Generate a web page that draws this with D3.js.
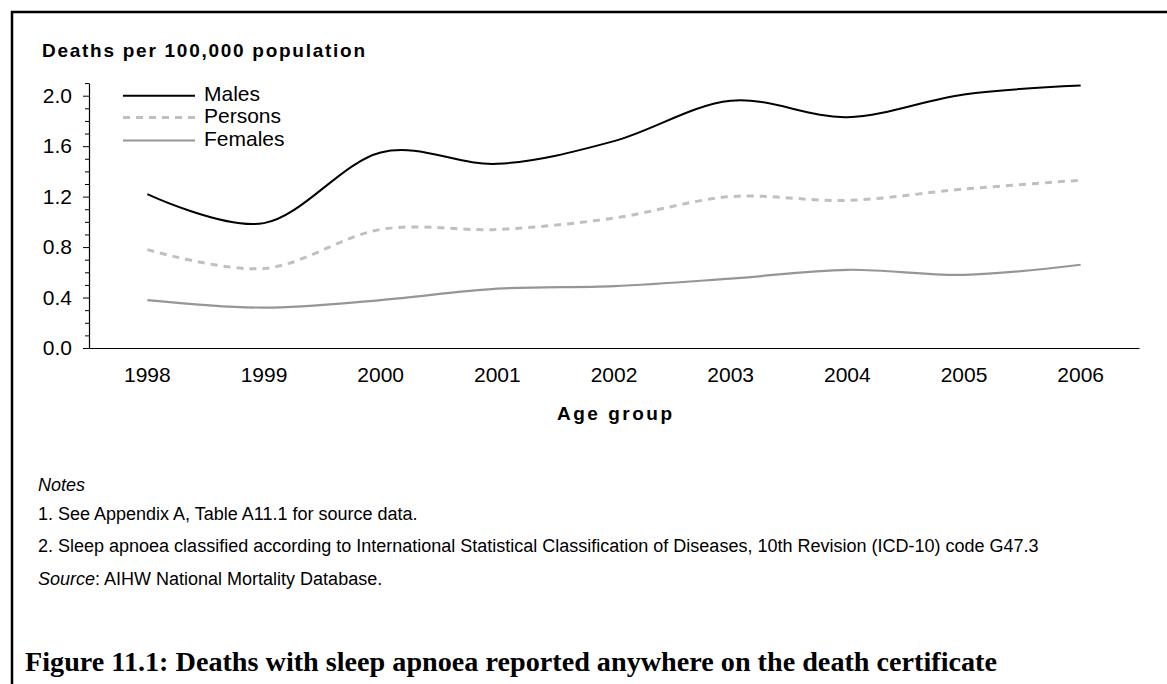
<!DOCTYPE html>
<html><head><meta charset="utf-8">
<script src="https://cdn.jsdelivr.net/npm/d3@7"></script>
<style>
html,body{margin:0;padding:0;background:#fff;}
svg{display:block;}
text{font-family:Arial,"Liberation Sans",sans-serif;fill:#000;}
</style></head>
<body>
<svg id="chart" width="1167" height="684"></svg>
<script>
const years = ["1998","1999","2000","2001","2002","2003","2004","2005","2006"];
const males = [1.22, 0.99, 1.55, 1.46, 1.64, 1.96, 1.83, 2.01, 2.08];
const persons = [0.78, 0.63, 0.94, 0.94, 1.03, 1.20, 1.17, 1.26, 1.33];
const females = [0.38, 0.32, 0.38, 0.47, 0.49, 0.55, 0.62, 0.58, 0.66];
const seriesNames = ["Males","Persons","Females"];
const majorTicks = [0.0, 0.4, 0.8, 1.2, 1.6, 2.0];
const minorTicks = [0.1,0.2,0.3,0.5,0.6,0.7,0.9,1.0,1.1,1.3,1.4,1.5,1.7,1.8,1.9,2.1];
const yTitle = "Deaths per 100,000 population";
const xTitle = "Age group";
const notes = ["1. See Appendix A, Table A11.1 for source data.",
  "2. Sleep apnoea classified according to International Statistical Classification of Diseases, 10th Revision (ICD-10) code G47.3"];
const caption = "Figure 11.1: Deaths with sleep apnoea reported anywhere on the death certificate";

const svg = d3.select("#chart");
// frame
svg.append("rect").attr("x",12).attr("y",12).attr("width",1180).attr("height",700)
  .attr("fill","none").attr("stroke","#000").attr("stroke-width",2.5);

const L = 89, R = 1139, B = 348;
const x = d3.scaleBand().domain(years).range([L, R]);
const xc = d => x(d) + x.bandwidth()/2;
const y = d3.scaleLinear().domain([0, 2.1]).range([B, B - 2.1*126.15]);

// y axis minor ticks
svg.append("g").attr("transform",`translate(${L},0)`)
  .call(d3.axisLeft(y).tickValues(minorTicks).tickSize(4).tickFormat("").tickSizeOuter(0))
  .call(g=>g.select(".domain").remove())
  .call(g=>g.selectAll("line").attr("stroke","#000"));
// y axis major
svg.append("g").attr("transform",`translate(${L},0)`)
  .call(d3.axisLeft(y).tickValues(majorTicks).tickSize(6).tickPadding(11).tickFormat(d3.format(".1f")).tickSizeOuter(0))
  .call(g=>g.selectAll("text").attr("font-size",21))
  .call(g=>g.select(".domain").attr("stroke","#000").attr("stroke-width",1.2))
  .call(g=>g.selectAll("line").attr("stroke","#000"));
// x axis
svg.append("g").attr("transform",`translate(0,${B})`)
  .call(d3.axisBottom(x).tickSize(0).tickPadding(19).tickSizeOuter(0))
  .call(g=>g.selectAll("text").attr("font-size",21))
  .call(g=>g.select(".domain").attr("stroke","#000").attr("stroke-width",1.2));

const line = d3.line().x((d,i)=>xc(years[i])).y(d=>y(d)).curve(d3.curveCardinal.tension(0));
const styles = {
  Males:{stroke:"#000", width:2, dash:null},
  Persons:{stroke:"#c0c0c0", width:3, dash:"7,6"},
  Females:{stroke:"#969696", width:2.2, dash:null}
};
const data = {Males:males, Persons:persons, Females:females};
seriesNames.slice().reverse().forEach(n=>{
  svg.append("path").datum(data[n]).attr("d",line).attr("fill","none")
    .attr("stroke",styles[n].stroke).attr("stroke-width",styles[n].width)
    .attr("stroke-dasharray",styles[n].dash);
});

// legend
const legY = [95.7, 117.5, 140.5];
seriesNames.forEach((n,i)=>{
  svg.append("line").attr("x1",123).attr("x2",195).attr("y1",legY[i]).attr("y2",legY[i])
    .attr("stroke",styles[n].stroke).attr("stroke-width",styles[n].width).attr("stroke-dasharray",styles[n].dash);
  svg.append("text").attr("x",204).attr("y",legY[i]+5).attr("font-size",21).text(n);
});

// titles
svg.append("text").attr("x",42).attr("y",57).attr("font-size",19).attr("font-weight","bold")
  .attr("textLength",323).attr("lengthAdjust","spacing").text(yTitle);
svg.append("text").attr("x",557).attr("y",420).attr("font-size",19)
  .attr("font-weight","bold").attr("textLength",115).attr("lengthAdjust","spacing").text(xTitle);

// notes
const nx = 38, nfs = 18;
svg.append("text").attr("x",nx).attr("y",491).attr("font-size",nfs).attr("font-style","italic").text("Notes");
svg.append("text").attr("x",nx).attr("y",520).attr("font-size",nfs).text(notes[0]);
svg.append("text").attr("x",nx).attr("y",552).attr("font-size",nfs).text(notes[1]);
const src = svg.append("text").attr("x",nx).attr("y",585).attr("font-size",nfs);
src.append("tspan").attr("font-style","italic").text("Source");
src.append("tspan").text(": AIHW National Mortality Database.");

svg.append("text").attr("x",25).attr("y",671).attr("font-size",27).attr("font-weight","bold")
  .style("font-family","'Liberation Serif','DejaVu Serif',serif")
  .attr("textLength",972).attr("lengthAdjust","spacingAndGlyphs").text(caption);
</script>
</body></html>
